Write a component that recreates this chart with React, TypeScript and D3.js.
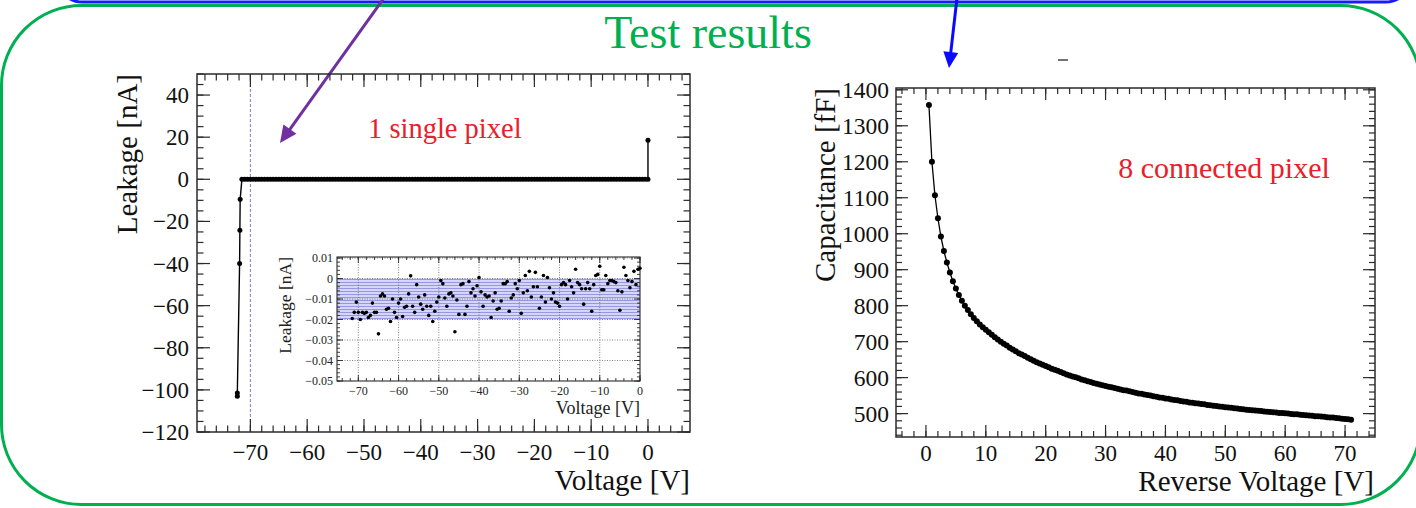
import React from 'react';
import * as d3 from 'd3';

// ---------- DATA ----------
// Left: leakage sweep (reverse bias), measured every 0.5 V from -71.5 V to 0 V
const leakSweepStart = -71.5;
const leakSweepStep = 0.5;
const leakageNA = [
  -19.5, -16.5, -11.5, -16.5, -20, -16.5, -17, -16.5, -19, -18,
  -12, -16.5, -16.5, -27, -8.5, -7.5, -8.5, -15, -14.5, -21,
  -10, -16.5, -19, -12, -10, -18.5, -14, -13.5, -7.5, 1.3,
  -13.5, -16.5, -3, -9, -12.5, -15, -8, -13.5, -18, -13.5,
  -21, -16, -11.5, -9, -1, -2.5, -9.5, -13.5, -7.5, -7,
  -8.5, -26, -10.5, -17.5, -3, -2.5, -17.5, -13.5, -1.5, -7,
  -5, -8.5, -3.5, 0.5, -6.5, -13.5, -8, -9, -8.5, -19,
  -11, -7, -15, -14.5, -11, -2.5, -2.5, -1.5, -16, -9.5,
  -8, -2.5, -5, -1, -17, -7, 1.5, -6, 3.5, -9,
  -4, 3, -4, -14.5, -9, 1.5, -11.5, 0.5, -4.5, -10,
  -7, -11.5, -12, -13.5, -3, -2, -3, -10, -1, -4,
  -7, 4.5, -2, -3, -5, -12.5, -5, -2, -5, -16,
  -3, 1.5, 2, 6, -5.5, -5.5, 1.5, -2.5, -1, -1,
  -1.5, -2, -6, -15.5, -6.5, 5.5, 1.5, -1, -4.5, -1.5,
  3.5, -3, 4.5, 5,
].map((v) => v / 1000);
const firstPointV = 0;
const firstPointNA = 18.5;
const breakdownV = [-71.8, -71.85, -71.9, -72.3, -72.3];
const breakdownNA = [-9.5, -24.2, -40, -101.5, -103];
const bandTop = 0;
const bandBottom = -0.02;
const markerV = -70;

// Right: capacitance, every 0.5 V from 0.5 V to 71 V
const capSweepStart = 0.5;
const capSweepStep = 0.5;
const capacitanceFF = [
  1358, 1200, 1107, 1043, 992, 952, 920, 892, 868, 848,
  830, 814, 800, 788, 776, 766, 757, 748, 740, 733,
  726, 719, 712, 706, 700, 694, 689, 683, 678, 673,
  668, 664, 660, 655, 651, 647, 643, 639, 636, 632,
  629, 625, 622, 619, 616, 612, 609, 606, 603, 601,
  598, 595, 593, 590, 588, 585, 583, 581, 579, 577,
  575, 573, 571, 569, 567, 565, 564, 562, 560, 558,
  556, 555, 553, 552, 550, 548, 547, 545, 544, 542,
  541, 539, 538, 537, 535, 534, 533, 531, 530, 529,
  528, 527, 526, 524, 523, 522, 521, 520, 519, 518,
  517, 516, 515, 514, 513, 512, 511, 510, 509.5, 509,
  508, 507, 506, 505, 504.5, 504, 503, 502, 501.5, 501,
  500, 499, 498.5, 498, 497, 496, 495.5, 495, 494, 493,
  492.5, 492, 491, 490, 489.5, 489, 488, 487, 486, 485,
  484, 483,
];

// Tick labels
const leftXTicks = [-70, -60, -50, -40, -30, -20, -10, 0];
const leftYTicks = [40, 20, 0, -20, -40, -60, -80, -100, -120];
const insetXTicks = [-70, -60, -50, -40, -30, -20, -10, 0];
const insetYTicks = [0.01, 0, -0.01, -0.02, -0.03, -0.04, -0.05];
const rightXTicks = [0, 10, 20, 30, 40, 50, 60, 70];
const rightYTicks = [500, 600, 700, 800, 900, 1000, 1100, 1200, 1300, 1400];

// ---------- HELPERS ----------
const FONT = "'Liberation Serif', 'Times New Roman', Tinos, 'DejaVu Serif', serif";
const fmt = (v: number) => (v < 0 ? '\u2212' + String(Math.abs(v)) : String(v));

type Frame = { x0: number; x1: number; y0: number; y1: number };

function ticks(
  sx: d3.ScaleLinear<number, number>,
  sy: d3.ScaleLinear<number, number>,
  f: Frame,
  xMaj: number[],
  xMin: number[],
  yMaj: number[],
  yMin: number[],
  maj: number,
  min: number,
  key: string
) {
  const out: any[] = [];
  const inX = (v: number) => sx(v) >= f.x0 - 0.1 && sx(v) <= f.x1 + 0.1;
  const inY = (v: number) => sy(v) >= f.y0 - 0.1 && sy(v) <= f.y1 + 0.1;
  const addX = (vals: number[], len: number, t: string) =>
    vals.filter(inX).forEach((v, i) => {
      const x = sx(v);
      out.push(<line key={`${key}xb${t}${i}`} x1={x} x2={x} y1={f.y1} y2={f.y1 - len} />);
      out.push(<line key={`${key}xt${t}${i}`} x1={x} x2={x} y1={f.y0} y2={f.y0 + len} />);
    });
  const addY = (vals: number[], len: number, t: string) =>
    vals.filter(inY).forEach((v, i) => {
      const y = sy(v);
      out.push(<line key={`${key}yl${t}${i}`} x1={f.x0} x2={f.x0 + len} y1={y} y2={y} />);
      out.push(<line key={`${key}yr${t}${i}`} x1={f.x1} x2={f.x1 - len} y1={y} y2={y} />);
    });
  addX(xMin, min, 'm');
  addX(xMaj, maj, 'M');
  addY(yMin, min, 'm');
  addY(yMaj, maj, 'M');
  return out;
}

function arrow(x1: number, y1: number, tx: number, ty: number, color: string, w: number, hl: number, hw: number) {
  const dx = tx - x1;
  const dy = ty - y1;
  const L = Math.hypot(dx, dy);
  const ux = dx / L;
  const uy = dy / L;
  const bx = tx - ux * hl;
  const by = ty - uy * hl;
  const px = -uy;
  const py = ux;
  const pts = `${tx},${ty} ${bx + px * hw},${by + py * hw} ${bx - px * hw},${by - py * hw}`;
  return (
    <g>
      <line x1={x1} y1={y1} x2={bx + ux * 2} y2={by + uy * 2} stroke={color} strokeWidth={w} />
      <polygon points={pts} fill={color} />
    </g>
  );
}

export default function App() {
  // ---- Left main plot ----
  const LF: Frame = { x0: 197, x1: 690, y0: 74, y1: 432 };
  const lx = d3.scaleLinear().domain([-79.4, 7.4]).range([LF.x0, LF.x1]);
  const ly = d3.scaleLinear().domain([-120, 50]).range([LF.y1, LF.y0]);

  const sweep = leakageNA.map((v, i) => ({ v: leakSweepStart + i * leakSweepStep, i: v }));
  const mainPts: { v: number; i: number }[] = [
    { v: firstPointV, i: firstPointNA },
    ...sweep.slice().reverse(),
    ...breakdownV.map((v, k) => ({ v, i: breakdownNA[k] })),
  ];
  const mainLine = d3
    .line<{ v: number; i: number }>()
    .x((d) => lx(d.v))
    .y((d) => ly(d.i))(mainPts);

  // ---- Inset ----
  const IF: Frame = { x0: 337, x1: 640, y0: 257, y1: 381 };
  const ix = d3.scaleLinear().domain([-75.3, 0]).range([IF.x0, IF.x1]);
  const iy = d3.scaleLinear().domain([-0.05, 0.0105]).range([IF.y1, IF.y0]);

  // ---- Right plot ----
  const RF: Frame = { x0: 896, x1: 1375, y0: 88, y1: 437 };
  const rx = d3.scaleLinear().domain([-5, 75]).range([RF.x0, RF.x1]);
  const ry = d3.scaleLinear().domain([435, 1405]).range([RF.y1, RF.y0]);
  const capPts = capacitanceFF.map((c, k) => ({ v: capSweepStart + k * capSweepStep, c }));
  const capLine = d3
    .line<{ v: number; c: number }>()
    .x((d) => rx(d.v))
    .y((d) => ry(d.c))(capPts);

  const green = '#00b050';
  const red = '#e8202a';
  const frameStroke = '#2b2b2b';

  return (
    <svg
      width={1416}
      height={508}
      viewBox="0 0 1416 508"
      style={{ position: 'absolute', left: 0, top: 0, background: '#fff', fontFamily: FONT }}
    >
      <defs>
        <pattern id="bandHatch" width={4} height={3} patternUnits="userSpaceOnUse">
          <rect width={4} height={3} fill="#d6d6f8" />
          <line x1={0} x2={4} y1={0.5} y2={0.5} stroke="#9696e4" strokeWidth={1} />
        </pattern>
      </defs>
      <rect x={0} y={0} width={1416} height={508} fill="#fff" />

      {/* slide decoration */}
      <rect x={58} y={-100} width={1352} height={102} rx={24} fill="none" stroke="#1a1aff" strokeWidth={3} />
      <rect x={1.5} y={5.5} width={1419} height={499} rx={80} fill="none" stroke={green} strokeWidth={3} />
      <text x={708} y={48} textAnchor="middle" fontSize={46} fill={green}>
        Test results
      </text>
      {arrow(384, -2, 280, 143, '#7030a0', 3, 17, 8)}
      {arrow(957, -2, 949, 68, '#0a0aff', 3, 16, 7.5)}
      <line x1={1058} x2={1068} y1={60} y2={60} stroke="#444" strokeWidth={1.5} />

      {/* ===== Left plot ===== */}
      <g>
        <line x1={lx(markerV)} x2={lx(markerV)} y1={LF.y0} y2={LF.y1} stroke="#7070c0" strokeWidth={0.9} strokeDasharray="3 2" />
        <g stroke={frameStroke} strokeWidth={1.2}>
          {ticks(lx, ly, LF, leftXTicks, d3.range(-78, 8, 2), leftYTicks, d3.range(-120, 51, 5), 13, 6.5, 'L')}
        </g>
        <rect x={LF.x0} y={LF.y0} width={LF.x1 - LF.x0} height={LF.y1 - LF.y0} fill="none" stroke={frameStroke} strokeWidth={1.5} />
        <path d={mainLine || ''} fill="none" stroke="#000" strokeWidth={1.4} />
        {mainPts.map((d, k) => (
          <circle key={`mp${k}`} cx={lx(d.v)} cy={ly(d.i)} r={2.5} fill="#000" />
        ))}
        {leftYTicks.map((t) => (
          <text key={`lyt${t}`} x={189} y={ly(t) + 8} textAnchor="end" fontSize={23} fill="#111">
            {fmt(t)}
          </text>
        ))}
        {leftXTicks.map((t) => (
          <text key={`lxt${t}`} x={lx(t)} y={460} textAnchor="middle" fontSize={23} fill="#111">
            {fmt(t)}
          </text>
        ))}
        <text x={690} y={490} textAnchor="end" fontSize={29} fill="#111">
          Voltage [V]
        </text>
        <text transform={`translate(137,${LF.y0}) rotate(-90)`} textAnchor="end" fontSize={29} fill="#111">
          Leakage [nA]
        </text>
        <text x={368} y={138} fontSize={28.5} fill={red}>
          1 single pixel
        </text>
      </g>

      {/* ===== Inset ===== */}
      <g>
        <rect x={IF.x0} y={IF.y0} width={IF.x1 - IF.x0} height={IF.y1 - IF.y0} fill="#fff" />
        <rect x={IF.x0} y={iy(bandTop)} width={IF.x1 - IF.x0} height={iy(bandBottom) - iy(bandTop)} fill="url(#bandHatch)" />
        <g stroke="#666" strokeWidth={0.8} strokeDasharray="1 1.5">
          {insetXTicks
            .filter((t) => t > -75 && t < 0)
            .map((t) => (
              <line key={`igx${t}`} x1={ix(t)} x2={ix(t)} y1={IF.y0} y2={IF.y1} />
            ))}
          {insetYTicks
            .filter((t) => t > -0.05)
            .map((t) => (
              <line key={`igy${t}`} x1={IF.x0} x2={IF.x1} y1={iy(t)} y2={iy(t)} />
            ))}
        </g>
        <g stroke={frameStroke} strokeWidth={0.9}>
          {ticks(ix, iy, IF, insetXTicks, d3.range(-74, 1, 2), insetYTicks, d3.range(-0.05, 0.011, 0.002), 6, 3, 'I')}
        </g>
        <rect x={IF.x0} y={IF.y0} width={IF.x1 - IF.x0} height={IF.y1 - IF.y0} fill="none" stroke={frameStroke} strokeWidth={1.1} />
        {sweep.map((d, k) => (
          <circle key={`ip${k}`} cx={ix(d.v)} cy={iy(d.i)} r={1.8} fill="#000" />
        ))}
        {insetYTicks.map((t) => (
          <text key={`iyt${t}`} x={333} y={iy(t) + 4} textAnchor="end" fontSize={12} fill="#222">
            {fmt(+t.toFixed(2))}
          </text>
        ))}
        {insetXTicks.map((t) => (
          <text key={`ixt${t}`} x={ix(t)} y={395} textAnchor="middle" fontSize={12} fill="#222">
            {fmt(t)}
          </text>
        ))}
        <text x={640} y={414} textAnchor="end" fontSize={18} fill="#222">
          Voltage [V]
        </text>
        <text transform={`translate(291,${IF.y0}) rotate(-90)`} textAnchor="end" fontSize={17.5} fill="#222">
          Leakage [nA]
        </text>
      </g>

      {/* ===== Right plot ===== */}
      <g>
        <g stroke={frameStroke} strokeWidth={1.2}>
          {ticks(rx, ry, RF, rightXTicks, d3.range(-4, 76, 2), rightYTicks, d3.range(440, 1405, 20), 12, 6, 'R')}
        </g>
        <rect x={RF.x0} y={RF.y0} width={RF.x1 - RF.x0} height={RF.y1 - RF.y0} fill="none" stroke={frameStroke} strokeWidth={1.5} />
        <path d={capLine || ''} fill="none" stroke="#000" strokeWidth={1.3} />
        {capPts.map((d, k) => (
          <circle key={`cp${k}`} cx={rx(d.v)} cy={ry(d.c)} r={3} fill="#000" />
        ))}
        {rightYTicks.map((t) => (
          <text key={`ryt${t}`} x={889} y={ry(t) + 8} textAnchor="end" fontSize={23.5} fill="#111">
            {fmt(t)}
          </text>
        ))}
        {rightXTicks.map((t) => (
          <text key={`rxt${t}`} x={rx(t)} y={461} textAnchor="middle" fontSize={23} fill="#111">
            {fmt(t)}
          </text>
        ))}
        <text x={1374} y={491} textAnchor="end" fontSize={29} fill="#111">
          Reverse Voltage [V]
        </text>
        <text transform={`translate(835,${RF.y0}) rotate(-90)`} textAnchor="end" fontSize={29} fill="#111">
          Capacitance [fF]
        </text>
        <text x={1224} y={178} textAnchor="middle" fontSize={30} fill={red}>
          8 connected pixel
        </text>
      </g>
    </svg>
  );
}
